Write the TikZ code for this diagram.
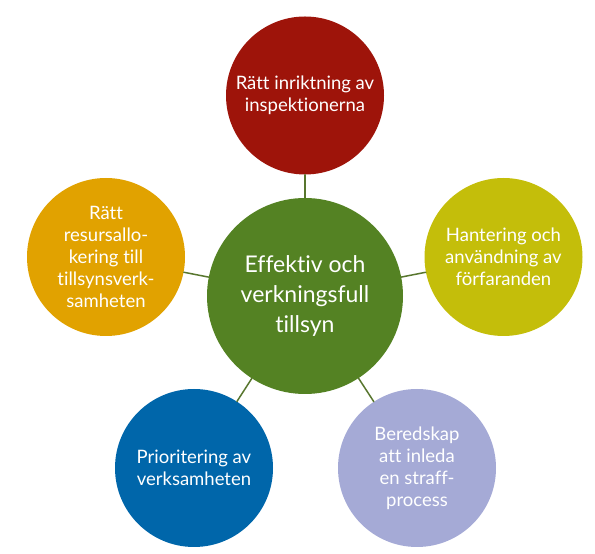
\documentclass[tikz,border=0pt]{standalone}
\usepackage{fontspec}
\setmainfont{Lato}[Ligatures=NoCommon]
\definecolor{hubgreen}{RGB}{84,130,35}
\definecolor{linkgreen}{RGB}{88,118,46}
\definecolor{rubyred}{RGB}{158,20,10}
\definecolor{olive}{RGB}{196,190,10}
\definecolor{gold}{RGB}{225,162,0}
\definecolor{seablue}{RGB}{0,102,170}
\definecolor{lavender}{RGB}{165,170,214}
\begin{document}
\begin{tikzpicture}[x=1pt,y=1pt,line cap=round,
  bubble/.style={circle,minimum size=158pt,inner sep=0pt,align=center,
    text=white,font=\fontsize{18.5}{22}\selectfont},
  hub/.style={bubble,minimum size=196pt,font=\fontsize{23}{30}\selectfont},
  link/.style={draw=linkgreen,line width=1.5pt}]
  \useasboundingbox (0,0) rectangle (595,554);
  \node[hub,fill=hubgreen] (tillsyn) at (305,258) {Effektiv och\\verkningsfull\\tillsyn};
  \node[bubble,fill=rubyred] (inriktning) at (305,458.5) {Rätt inriktning av\\inspektionerna};
  \node[bubble,fill=olive] (hantering) at (503.5,297) {Hantering och\\användning av\\förfaranden};
  \node[bubble,fill=lavender] (beredskap) at (417,86) {Beredskap\\att inleda\\en straff-\\process};
  \node[bubble,fill=seablue] (prioritering) at (194,86) {Prioritering av\\verksamheten};
  \node[bubble,fill=gold] (resurser) at (106,297) {Rätt\\resursallo-\\kering till\\tillsynsverk-\\samheten};
  \foreach \n in {inriktning,hantering,beredskap,prioritering,resurser}
    \draw[link] (tillsyn) -- (\n);
\end{tikzpicture}
\end{document}
